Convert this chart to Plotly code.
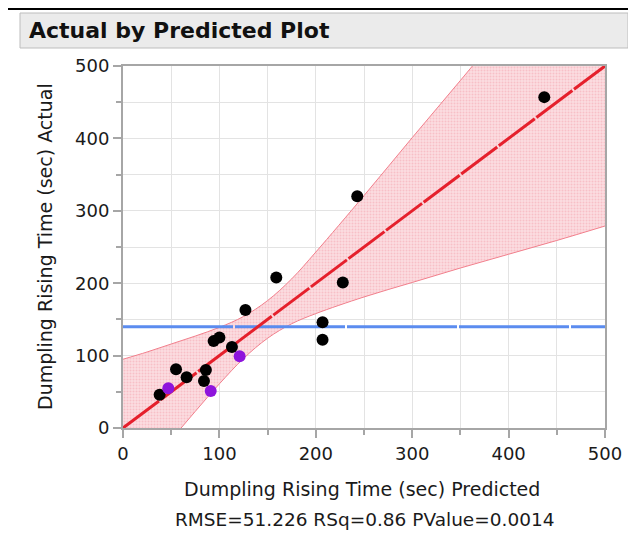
import plotly.graph_objects as go

# Data
predicted_black = [437, 243, 159, 228, 207, 207, 127, 94, 100, 113, 55, 66, 86, 84, 38]
actual_black = [457, 320, 208, 201, 146, 122, 163, 120, 125, 112, 81, 70, 80, 65, 46]
predicted_purple = [121, 47, 91]
actual_purple = [99, 55, 51]

mean_actual = 140
fit_x = [0, 500]
fit_y = [0, 500]

band_x = [0, 25, 50, 75, 100, 125, 150, 175, 200, 250, 300, 350, 400, 450, 500]
band_upper = [95, 105, 116, 127, 139, 154, 176, 206, 243, 321, 401, 480, 560, 641, 722]
band_lower = [-95, -56, -16, 23, 61, 96, 124, 144, 158, 181, 201, 221, 240, 259, 279]

x_ticks = [0, 100, 200, 300, 400, 500]
y_ticks = [0, 100, 200, 300, 400, 500]

FONT = "DejaVu Sans"
# figure geometry (page has an 8px body margin)
W, H = 628, 539
L, R, T, B = 115, 31, 58, 119
PW, PH = W - L - R, H - T - B


def px(fx):
    return (fx - L) / PW


def py(fy):
    return (H - B - fy) / PH


fig = go.Figure()

fig.add_trace(go.Scatter(x=band_x, y=band_lower, mode="lines",
                         line=dict(color="#f27f8c", width=1, shape="spline"),
                         hoverinfo="skip", showlegend=False))
fig.add_trace(go.Scatter(x=band_x, y=band_upper, mode="lines",
                         line=dict(color="#f27f8c", width=1, shape="spline"),
                         fill="tonexty", fillcolor="rgba(250,205,210,0.6)",
                         fillpattern=dict(shape=".", fgcolor="#f3a3ad", bgcolor="rgba(252,220,224,0.95)",
                                          size=3, solidity=0.4),
                         hoverinfo="skip", showlegend=False))

fig.add_trace(go.Scatter(x=[0, 500], y=[mean_actual, mean_actual], mode="lines",
                         line=dict(color="#5b8cef", width=3, dash="110px,2px"),
                         showlegend=False))
fig.add_trace(go.Scatter(x=fit_x, y=fit_y, mode="lines",
                         line=dict(color="#e5202c", width=3, dash="45px,2px"),
                         showlegend=False))

fig.add_trace(go.Scatter(x=predicted_black, y=actual_black, mode="markers",
                         marker=dict(color="black", size=12), showlegend=False))
fig.add_trace(go.Scatter(x=predicted_purple, y=actual_purple, mode="markers",
                         marker=dict(color="#8e14dc", size=12), showlegend=False))

axis_common = dict(
    range=[0, 500], showgrid=True, gridcolor="#e3e3e3", gridwidth=1,
    zeroline=False, showline=True, linecolor="#a6a6a6", linewidth=2, mirror=True,
    ticks="outside", ticklen=8, tickwidth=2, tickcolor="#a6a6a6",
    tickfont=dict(family=FONT, size=18, color="#1a1a1a"),
    minor=dict(dtick=50, ticks="outside", ticklen=5, tickwidth=2, tickcolor="#a6a6a6",
               showgrid=True, gridcolor="#e3e3e3", gridwidth=1),
)
fig.update_xaxes(**axis_common, tickvals=x_ticks, ticktext=[str(v) for v in x_ticks])
fig.update_yaxes(**axis_common, tickvals=y_ticks, ticktext=[str(v) for v in y_ticks])

fig.update_layout(
    width=W, height=H,
    margin=dict(l=L, r=R, t=T, b=B),
    paper_bgcolor="white", plot_bgcolor="white",
    font=dict(family=FONT),
    shapes=[
        dict(type="rect", xref="paper", yref="paper", x0=px(12), x1=px(620),
             y0=py(40), y1=py(5),
             fillcolor="#ebebeb", line=dict(color="#bdbdbd", width=1), layer="below"),
        dict(type="line", xref="paper", yref="paper", x0=px(0), x1=px(W),
             y0=py(1), y1=py(1), line=dict(color="black", width=2)),
        dict(type="line", xref="paper", yref="paper", x0=px(623), x1=px(623),
             y0=py(H), y1=py(0), line=dict(color="black", width=2)),
    ],
    annotations=[
        dict(text="<b>Actual by Predicted Plot</b>", xref="paper", yref="paper",
             x=px(19), y=py(23), xanchor="left", yanchor="middle",
             showarrow=False, font=dict(family=FONT, size=22, color="#111111")),
        dict(text="Dumpling Rising Time (sec) Predicted", xref="paper", yref="paper",
             x=px(354), y=py(481), xanchor="center", yanchor="middle",
             showarrow=False, font=dict(family=FONT, size=19, color="#1a1a1a")),
        dict(text="RMSE=51.226 RSq=0.86 PValue=0.0014", xref="paper", yref="paper",
             x=px(356), y=py(511), xanchor="center", yanchor="middle",
             showarrow=False, font=dict(family=FONT, size=18.5, color="#1a1a1a")),
        dict(text="Dumpling Rising Time (sec) Actual", xref="paper", yref="paper",
             x=px(37), y=py(239), xanchor="center", yanchor="middle",
             textangle=-90, showarrow=False, font=dict(family=FONT, size=19, color="#1a1a1a")),
    ],
)

fig.write_html("out.html")
